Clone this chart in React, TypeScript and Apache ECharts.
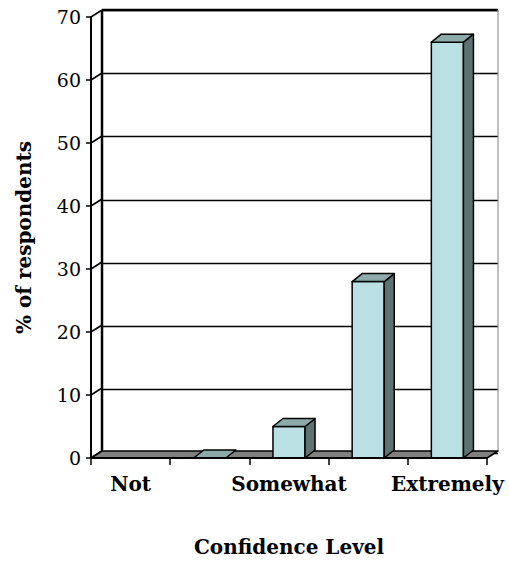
import React, { useEffect, useRef } from "react";
import * as echarts from "echarts";

const categories = ["Not", "", "Somewhat", "", "Extremely"];
const values: (number | null)[] = [null, 0, 5, 28, 66];
const yTicks = [0, 10, 20, 30, 40, 50, 60, 70];
const yMax = 70;
const yInterval = 10;
const xTitle = "Confidence Level";
const yTitle = "% of respondents";

const DX = 11;
const DY = 7;
const BDX = 10;
const BDY = 8;
const FRONT = "#BAE0E3";
const TOP = "#8DAAAB";
const SIDE = "#5F7272";
const FLOOR = "#808080";

export default function App() {
  const ref = useRef<HTMLDivElement>(null);
  useEffect(() => {
    if (!ref.current) return;
    const chart = echarts.init(ref.current, undefined, { renderer: "svg" });
    const barData: number[][] = [];
    values.forEach((v, i) => {
      if (v !== null) barData.push([i, v]);
    });
    const fontFamily = "DejaVu Serif";

    const bounds = (api: any) => {
      const w = api.size([1, 0])[0];
      const c0 = api.coord([0, 0]);
      const cN = api.coord([categories.length - 1, 0]);
      return { xL: c0[0] - w / 2, xR: cN[0] + w / 2, y0: c0[1], w };
    };

    chart.setOption({
      animation: false,
      grid: [
        { left: 91, top: 17, width: 396, height: 443 },
        { left: 91 + DX, top: 17 - DY, width: 396, height: 443 },
      ],
      xAxis: [
        {
          type: "category",
          gridIndex: 0,
          data: categories,
          boundaryGap: true,
          axisLine: { show: true, lineStyle: { color: "#000", width: 2 } },
          axisTick: { show: true, length: 7, lineStyle: { color: "#000", width: 1.5 }, interval: 0 },
          axisLabel: {
            interval: 0,
            margin: 16,
            color: "#000",
            fontFamily,
            fontWeight: "bold",
            fontSize: 20,
          },
          name: xTitle,
          nameLocation: "middle",
          nameGap: 79,
          nameTextStyle: { color: "#000", fontFamily, fontWeight: "bold", fontSize: 20 },
          z: 10,
        },
        {
          type: "category",
          gridIndex: 1,
          data: categories,
          show: false,
        },
      ],
      yAxis: [
        {
          type: "value",
          gridIndex: 0,
          min: 0,
          max: yMax,
          interval: yInterval,
          axisLine: { show: true, lineStyle: { color: "#000", width: 2 } },
          axisTick: { show: true, length: 5, lineStyle: { color: "#000", width: 1.5 } },
          axisLabel: { margin: 10, color: "#000", fontFamily, fontSize: 19 },
          splitLine: { show: false },
          name: yTitle,
          nameLocation: "middle",
          nameGap: 57,
          nameTextStyle: { color: "#000", fontFamily, fontWeight: "bold", fontSize: 20 },
          z: 10,
        },
        {
          type: "value",
          gridIndex: 1,
          min: 0,
          max: yMax,
          interval: yInterval,
          axisLine: { show: false },
          axisTick: { show: false },
          axisLabel: { show: false },
          splitLine: { show: true, lineStyle: { color: "#000", width: 1.3 } },
        },
      ],
      series: [
        {
          type: "custom",
          name: "walls",
          xAxisIndex: 0,
          yAxisIndex: 0,
          data: [[0, 0]],
          z: 1,
          silent: true,
          renderItem: (params: any, api: any) => {
            const { xL, xR, y0 } = bounds(api);
            const yT = api.coord([0, yMax])[1];
            const children: any[] = [];
            yTicks.forEach((v) => {
              const y = api.coord([0, v])[1];
              children.push({
                type: "line",
                shape: { x1: xL, y1: y, x2: xL + DX, y2: y - DY },
                style: { stroke: "#000", lineWidth: 1.5 },
              });
            });
            children.push({
              type: "line",
              shape: { x1: xL + DX, y1: yT - DY, x2: xR + DX, y2: yT - DY },
              style: { stroke: "#000", lineWidth: 2.5 },
            });
            children.push({
              type: "line",
              shape: { x1: xL + DX, y1: yT - DY, x2: xL + DX, y2: y0 - DY },
              style: { stroke: "#000", lineWidth: 2.5 },
            });
            children.push({
              type: "line",
              shape: { x1: xR + DX, y1: yT - DY, x2: xR + DX, y2: y0 - DY },
              style: { stroke: "#808080", lineWidth: 1 },
            });
            children.push({
              type: "polygon",
              shape: {
                points: [
                  [xL, y0],
                  [xR, y0],
                  [xR + DX, y0 - DY],
                  [xL + DX, y0 - DY],
                ],
              },
              style: { fill: FLOOR, stroke: "#000", lineWidth: 1.5, lineJoin: "round" },
            });
            return { type: "group", children };
          },
        },
        {
          type: "custom",
          name: "bars",
          xAxisIndex: 0,
          yAxisIndex: 0,
          data: barData,
          encode: { x: 0, y: 1 },
          z: 5,
          renderItem: (params: any, api: any) => {
            const i = api.value(0);
            const v = api.value(1);
            const p0 = api.coord([i, 0]);
            const p1 = api.coord([i, v]);
            const w = api.size([1, 0])[0];
            const bw = w * 0.405;
            const x0 = p0[0] - bw / 2;
            const x1 = x0 + bw;
            const yb = p0[1];
            const yt = p1[1];
            const st = { stroke: "#000", lineWidth: 1.5, lineJoin: "round" };
            const children: any[] = [];
            if (yb - yt > 0.5) {
              children.push({
                type: "polygon",
                shape: { points: [[x0, yt], [x1, yt], [x1, yb], [x0, yb]] },
                style: { fill: FRONT, ...st },
              });
              children.push({
                type: "polygon",
                shape: { points: [[x1, yt], [x1 + BDX, yt - BDY], [x1 + BDX, yb - BDY], [x1, yb]] },
                style: { fill: SIDE, ...st },
              });
            }
            children.push({
              type: "polygon",
              shape: { points: [[x0, yt], [x1, yt], [x1 + BDX, yt - BDY], [x0 + BDX, yt - BDY]] },
              style: { fill: TOP, ...st },
            });
            return { type: "group", children };
          },
        },
      ],
    });
    return () => chart.dispose();
  }, []);
  return (
    <div
      ref={ref}
      style={{ position: "absolute", left: 0, top: 0, width: 509, height: 562, background: "#fff" }}
    />
  );
}
